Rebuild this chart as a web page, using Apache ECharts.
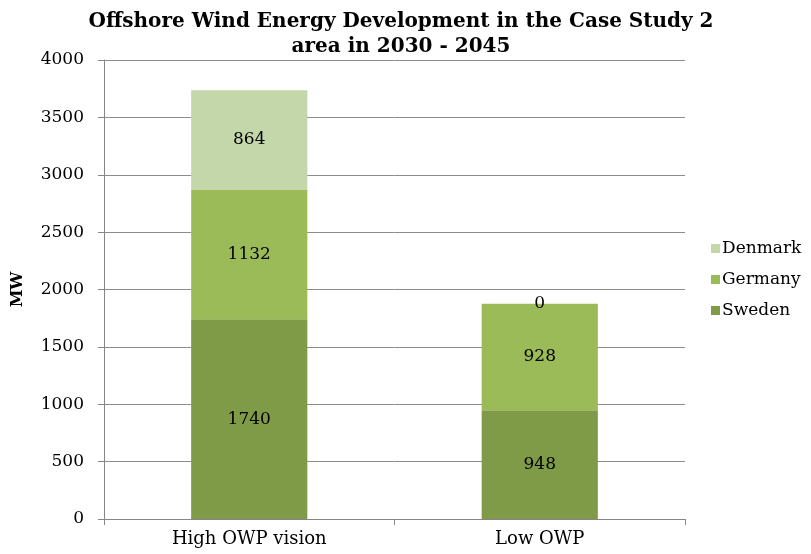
<!DOCTYPE html>
<html>
<head>
<meta charset="utf-8">
<script src="https://cdn.jsdelivr.net/npm/echarts@6/dist/echarts.min.js"></script>
<style>
  html, body { margin: 0; padding: 0; background: #fff; }
  #chart { width: 811px; height: 554px; }
</style>
</head>
<body>
<div id="chart"></div>
<script>
// Scenario categories and installed capacity (MW) per country
var categories = ['High OWP vision', 'Low OWP'];
var sweden = [1740, 948];
var germany = [1132, 928];
var denmark = [864, 0];
var yTicks = { min: 0, max: 4000, interval: 500 };

var FONT = 'DejaVu Serif';
var chart = echarts.init(document.getElementById('chart'));

function seg(name, data, color) {
  return {
    name: name,
    type: 'bar',
    stack: 'total',
    barWidth: '40%',
    data: data,
    itemStyle: { color: color },
    label: {
      show: true,
      position: 'inside',
      color: '#000',
      fontFamily: FONT,
      fontSize: 17
    }
  };
}

chart.setOption({
  animation: false,
  textStyle: { fontFamily: FONT },
  title: {
    text: 'Offshore Wind Energy Development in the Case Study 2\narea in 2030 - 2045',
    left: 396,
    textAlign: 'center',
    top: 4,
    textStyle: {
      fontFamily: FONT,
      fontWeight: 'bold',
      fontSize: 20,
      lineHeight: 25,
      color: '#000'
    }
  },
  legend: {
    orient: 'vertical',
    left: 706,
    top: 234,
    itemWidth: 9,
    itemHeight: 9,
    itemGap: 12,
    icon: 'rect',
    data: ['Denmark', 'Germany', 'Sweden'],
    textStyle: { fontFamily: FONT, fontSize: 17, lineHeight: 19, color: '#000', padding: [0, 0, 0, -3] }
  },
  grid: { left: 104, right: 126, top: 60, bottom: 35, containLabel: false },
  xAxis: {
    type: 'category',
    data: categories,
    axisLine: { lineStyle: { color: '#868686', width: 1 } },
    axisTick: { show: true, length: 6, lineStyle: { color: '#868686' } },
    axisLabel: { color: '#000', fontFamily: FONT, fontSize: 18, margin: 11 }
  },
  yAxis: {
    type: 'value',
    min: yTicks.min,
    max: yTicks.max,
    interval: yTicks.interval,
    name: 'MW',
    nameLocation: 'middle',
    nameGap: 78,
    nameTextStyle: { fontFamily: FONT, fontWeight: 'bold', fontSize: 16, color: '#000' },
    axisLine: { show: true, lineStyle: { color: '#868686', width: 1 } },
    axisTick: { show: true, length: 6, lineStyle: { color: '#868686' } },
    axisLabel: {
      color: '#000', fontFamily: FONT, fontSize: 17, margin: 20,
      formatter: function (v) { return String(v); }
    },
    splitLine: { lineStyle: { color: '#8C8C8C', width: 1 } }
  },
  series: [
    seg('Sweden', sweden, '#7F9B48'),
    seg('Germany', germany, '#9BBB59'),
    seg('Denmark', denmark, '#C4D7AA')
  ]
});
</script>
</body>
</html>
